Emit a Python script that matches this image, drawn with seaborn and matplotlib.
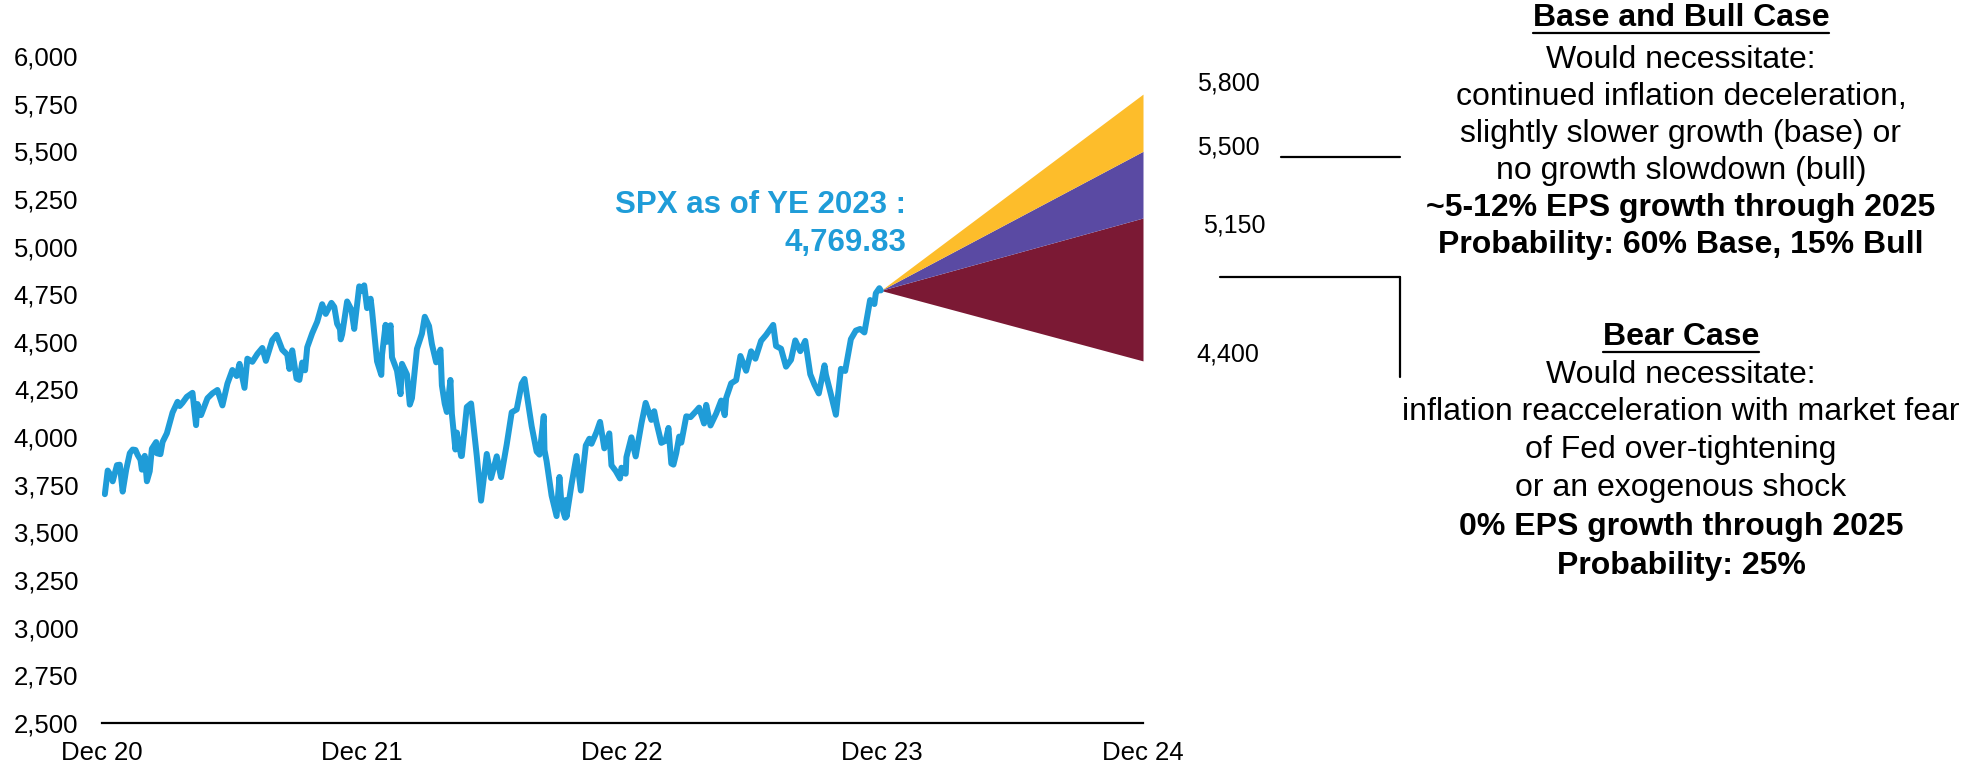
import numpy as np
import pandas as pd
import matplotlib
matplotlib.use("Agg")
import matplotlib.pyplot as plt
from matplotlib.lines import Line2D
from matplotlib.ticker import FuncFormatter
import seaborn as sns

# ---------------------------------------------------------------------------
# S&P 500 closing levels (weekly closes plus notable swing days)
# ---------------------------------------------------------------------------
dates_2021 = [
    "2021-01-04", "2021-01-08", "2021-01-12", "2021-01-15", "2021-01-21", "2021-01-25",
    "2021-01-29", "2021-02-03", "2021-02-08", "2021-02-12", "2021-02-16", "2021-02-19",
    "2021-02-23", "2021-02-25", "2021-03-01", "2021-03-04", "2021-03-08", "2021-03-11",
    "2021-03-17", "2021-03-18", "2021-03-23", "2021-03-26", "2021-04-01", "2021-04-09",
    "2021-04-16", "2021-04-19", "2021-04-23", "2021-04-29", "2021-05-07", "2021-05-12",
    "2021-05-14", "2021-05-19", "2021-05-28", "2021-06-04", "2021-06-11", "2021-06-18",
    "2021-06-25", "2021-07-02", "2021-07-08", "2021-07-12", "2021-07-19", "2021-07-23",
    "2021-07-30", "2021-08-06", "2021-08-13", "2021-08-18", "2021-08-27", "2021-09-02",
    "2021-09-10", "2021-09-17", "2021-09-20", "2021-09-24", "2021-09-30", "2021-10-04",
    "2021-10-08", "2021-10-12", "2021-10-15", "2021-10-22", "2021-10-29", "2021-11-05",
    "2021-11-10", "2021-11-18", "2021-11-22", "2021-11-26", "2021-11-30", "2021-12-01",
    "2021-12-03", "2021-12-10", "2021-12-16", "2021-12-20", "2021-12-27", "2021-12-31",
]
close_2021 = [
    3700.65, 3824.68, 3801.19, 3768.25, 3853.07, 3855.36,
    3714.24, 3830.17, 3915.59, 3934.83, 3932.59, 3906.71,
    3881.37, 3829.34, 3901.82, 3768.47, 3821.35, 3939.34,
    3974.12, 3915.46, 3910.52, 3974.54, 4019.87, 4128.80,
    4185.47, 4163.26, 4180.17, 4211.47, 4232.60, 4063.04,
    4173.85, 4115.68, 4204.11, 4229.89, 4247.44, 4166.45,
    4280.70, 4352.34, 4320.82, 4384.63, 4258.49, 4411.79,
    4395.26, 4436.52, 4468.00, 4400.27, 4509.37, 4536.95,
    4458.58, 4432.99, 4357.73, 4455.48, 4307.54, 4300.46,
    4391.34, 4350.65, 4471.37, 4544.90, 4605.38, 4697.53,
    4646.71, 4704.54, 4682.94, 4594.62, 4567.00, 4513.04,
    4538.43, 4712.02, 4668.67, 4568.02, 4791.19, 4766.18,
]

dates_2022 = [
    "2022-01-03", "2022-01-07", "2022-01-12", "2022-01-14", "2022-01-21", "2022-01-27",
    "2022-01-28", "2022-02-02", "2022-02-04", "2022-02-09", "2022-02-11", "2022-02-18",
    "2022-02-23", "2022-02-25", "2022-03-04", "2022-03-08", "2022-03-11", "2022-03-18",
    "2022-03-25", "2022-03-29", "2022-04-04", "2022-04-08", "2022-04-14", "2022-04-20",
    "2022-04-22", "2022-04-26", "2022-04-29", "2022-05-04", "2022-05-06", "2022-05-11",
    "2022-05-13", "2022-05-19", "2022-05-20", "2022-05-27", "2022-06-02", "2022-06-10",
    "2022-06-16", "2022-06-24", "2022-06-30", "2022-07-08", "2022-07-14", "2022-07-22",
    "2022-07-29", "2022-08-05", "2022-08-12", "2022-08-16", "2022-08-19", "2022-08-26",
    "2022-09-02", "2022-09-06", "2022-09-12", "2022-09-13", "2022-09-16", "2022-09-23",
    "2022-09-30", "2022-10-04", "2022-10-07", "2022-10-12", "2022-10-13", "2022-10-14",
    "2022-10-21", "2022-10-28", "2022-11-03", "2022-11-10", "2022-11-15", "2022-11-18",
    "2022-11-25", "2022-11-30", "2022-12-06", "2022-12-13", "2022-12-16", "2022-12-22",
    "2022-12-28", "2022-12-30",
]
close_2022 = [
    4796.56, 4677.03, 4726.35, 4662.85, 4397.94, 4326.51,
    4431.85, 4589.38, 4500.53, 4587.18, 4418.64, 4348.87,
    4225.50, 4384.65, 4328.87, 4170.70, 4204.31, 4463.12,
    4543.06, 4631.60, 4582.64, 4488.28, 4392.59, 4459.45,
    4271.78, 4175.20, 4131.93, 4300.17, 4123.34, 3935.18,
    4023.89, 3900.79, 3901.36, 4158.24, 4176.82, 3900.86,
    3666.77, 3911.74, 3785.38, 3899.38, 3790.38, 3961.63,
    4130.29, 4145.19, 4280.15, 4305.20, 4228.48, 4057.66,
    3924.26, 3908.19, 4110.41, 3932.69, 3873.33, 3693.23,
    3585.62, 3790.93, 3639.66, 3577.03, 3669.91, 3583.07,
    3752.75, 3901.06, 3719.89, 3956.37, 3991.73, 3965.34,
    4026.12, 4080.11, 3941.26, 4019.65, 3852.36, 3822.39,
    3783.22, 3839.50,
]

dates_2023 = [
    "2023-01-05", "2023-01-06", "2023-01-13", "2023-01-19", "2023-01-27", "2023-02-02",
    "2023-02-10", "2023-02-14", "2023-02-17", "2023-02-24", "2023-03-02", "2023-03-06",
    "2023-03-10", "2023-03-13", "2023-03-17", "2023-03-21", "2023-03-24", "2023-03-31",
    "2023-04-06", "2023-04-14", "2023-04-18", "2023-04-25", "2023-04-28", "2023-05-04",
    "2023-05-12", "2023-05-19", "2023-05-24", "2023-05-26", "2023-06-02", "2023-06-09",
    "2023-06-15", "2023-06-23", "2023-06-30", "2023-07-06", "2023-07-14", "2023-07-21",
    "2023-07-31", "2023-08-04", "2023-08-11", "2023-08-18", "2023-08-25", "2023-08-31",
    "2023-09-07", "2023-09-14", "2023-09-21", "2023-09-27", "2023-10-03", "2023-10-11",
    "2023-10-13", "2023-10-20", "2023-10-27", "2023-11-03", "2023-11-09", "2023-11-17",
    "2023-11-24", "2023-11-30", "2023-12-06", "2023-12-14", "2023-12-20", "2023-12-22",
    "2023-12-27", "2023-12-29",
]
close_2023 = [
    3808.10, 3895.08, 3999.09, 3898.85, 4070.56, 4179.76,
    4090.46, 4136.13, 4079.09, 3970.04, 3981.35, 4048.42,
    3861.59, 3855.76, 3916.64, 4002.87, 3970.99, 4109.31,
    4105.02, 4137.64, 4154.87, 4071.63, 4169.48, 4061.22,
    4124.08, 4191.98, 4115.24, 4205.45, 4282.37, 4298.86,
    4425.84, 4348.33, 4450.38, 4411.59, 4505.42, 4536.34,
    4588.96, 4478.03, 4464.05, 4369.71, 4405.71, 4507.66,
    4451.14, 4505.10, 4330.00, 4274.51, 4229.45, 4376.95,
    4327.78, 4224.16, 4117.37, 4358.34, 4347.35, 4514.02,
    4559.34, 4567.80, 4549.34, 4719.55, 4698.35, 4754.63,
    4781.58, 4769.83,
]

# Year-end 2024 scenario ranges (bottom, top of each band)
scenario_names = ["Bear", "Base", "Bull"]
scenario_low = [4400, 5150, 5500]
scenario_high = [5150, 5500, 5800]
scenario_colors = ["#7B1934", "#5A4AA3", "#FDBD2B"]
target_end_date = "2024-12-31"

# Axis ticks
x_tick_dates = ["2020-12-31", "2021-12-31", "2022-12-31", "2023-12-31", "2024-12-31"]
x_tick_labels = ["Dec 20", "Dec 21", "Dec 22", "Dec 23", "Dec 24"]
y_ticks = [2500, 2750, 3000, 3250, 3500, 3750, 4000, 4250, 4500, 4750,
           5000, 5250, 5500, 5750, 6000]

# Commentary blocks: (text, bold?)
bull_lines = [
    ("Base and Bull Case", True),
    ("Would necessitate:", False),
    ("continued inflation deceleration,", False),
    ("slightly slower growth (base) or", False),
    ("no growth slowdown (bull)", False),
    ("~5-12% EPS growth through 2025", True),
    ("Probability: 60% Base, 15% Bull", True),
]
bear_lines = [
    ("Bear Case", True),
    ("Would necessitate:", False),
    ("inflation reacceleration with market fear", False),
    ("of Fed over-tightening", False),
    ("or an exogenous shock", False),
    ("0% EPS growth through 2025", True),
    ("Probability: 25%", True),
]

# ---------------------------------------------------------------------------
spx = pd.DataFrame({
    "date": pd.to_datetime(dates_2021 + dates_2022 + dates_2023),
    "close": close_2021 + close_2022 + close_2023,
})

W, H = 1972, 768
BLUE = "#1F9CD8"

sns.set_theme(style="white")
plt.rcParams["font.family"] = ["Liberation Sans", "DejaVu Sans"]

fig = plt.figure(figsize=(W / 100, H / 100), dpi=100)
fig.patch.set_facecolor("white")


def fx(x):
    return x / W


def fy(y):
    return 1 - y / H


ax = fig.add_axes([fx(102), fy(723), fx(1143) - fx(102), fy(56) - fy(723)])
ax.set_facecolor("white")

sns.lineplot(data=spx, x="date", y="close", ax=ax, color=BLUE,
             linewidth=4.3, estimator=None, sort=True)
for ln in ax.get_lines():
    ln.set_solid_joinstyle("round")
    ln.set_solid_capstyle("round")

# Scenario fan from the last close to year-end 2024
start_date = spx["date"].iloc[-1]
start_val = spx["close"].iloc[-1]
fan_x = [start_date, pd.Timestamp(target_end_date)]
for lo, hi, col in zip(scenario_low, scenario_high, scenario_colors):
    ax.fill_between(fan_x, [start_val, lo], [start_val, hi],
                    color=col, linewidth=0, zorder=1)

ax.set_xlim(pd.Timestamp(x_tick_dates[0]), pd.Timestamp(x_tick_dates[-1]))
ax.set_ylim(y_ticks[0], y_ticks[-1])
ax.set_xticks(pd.to_datetime(x_tick_dates))
ax.set_xticklabels(x_tick_labels)
ax.set_yticks(y_ticks)
ax.yaxis.set_major_formatter(FuncFormatter(lambda v, _: f"{v:,.0f}"))
ax.tick_params(axis="y", length=0, pad=17, labelsize=18.5, labelcolor="black")
ax.tick_params(axis="x", length=0, pad=13, labelsize=18.5, labelcolor="black")
ax.set_xlabel("")
ax.set_ylabel("")
ax.grid(False)
for side in ["top", "right", "left"]:
    ax.spines[side].set_visible(False)
ax.spines["bottom"].set_color("black")
ax.spines["bottom"].set_linewidth(1.6)

# Last-close annotation
fig.text(fx(906), fy(205), "SPX as of YE 2023 :", ha="right", va="center",
         fontsize=22.5, fontweight="bold", color=BLUE)
fig.text(fx(906), fy(243), f"{start_val:,.2f}", ha="right", va="center",
         fontsize=22.5, fontweight="bold", color=BLUE)

# Scenario end-point labels
end_points = sorted(set(scenario_low + scenario_high), reverse=True)
label_pos = {5800: (1228, 83), 5500: (1228, 148), 5150: (1234, 226), 4400: (1228, 355)}
for v in end_points:
    px, py = label_pos[v]
    fig.text(fx(px), fy(py), f"{v:,.0f}", ha="center", va="center",
             fontsize=18, color="black")

# Connector lines to the commentary
line_kw = dict(transform=fig.transFigure, color="black", linewidth=1.6)
fig.add_artist(Line2D([fx(1281), fx(1400)], [fy(157), fy(157)], **line_kw))
fig.add_artist(Line2D([fx(1220), fx(1400)], [fy(277), fy(277)], **line_kw))
fig.add_artist(Line2D([fx(1400), fx(1400)], [fy(277), fy(377)], **line_kw))

# Commentary text
bull_y = [18, 60, 97, 134, 171, 208, 245]
bear_y = [337, 375, 412, 450, 488, 527, 566]
titles = []
for lines, ys in ((bull_lines, bull_y), (bear_lines, bear_y)):
    for i, ((txt, bold), yy) in enumerate(zip(lines, ys)):
        t = fig.text(fx(1681), fy(yy), txt, ha="center", va="center",
                     fontsize=23, fontweight="bold" if bold else "normal",
                     color="black")
        if i == 0:
            titles.append((t, yy))

# Underline the two headings
fig.canvas.draw()
renderer = fig.canvas.get_renderer()
for t, yy in titles:
    bb = t.get_window_extent(renderer=renderer)
    fig.add_artist(Line2D([bb.x0 / W, bb.x1 / W], [fy(yy + 15), fy(yy + 15)],
                          transform=fig.transFigure, color="black", linewidth=1.6))

fig.savefig("out.png", dpi=100, facecolor="white")
